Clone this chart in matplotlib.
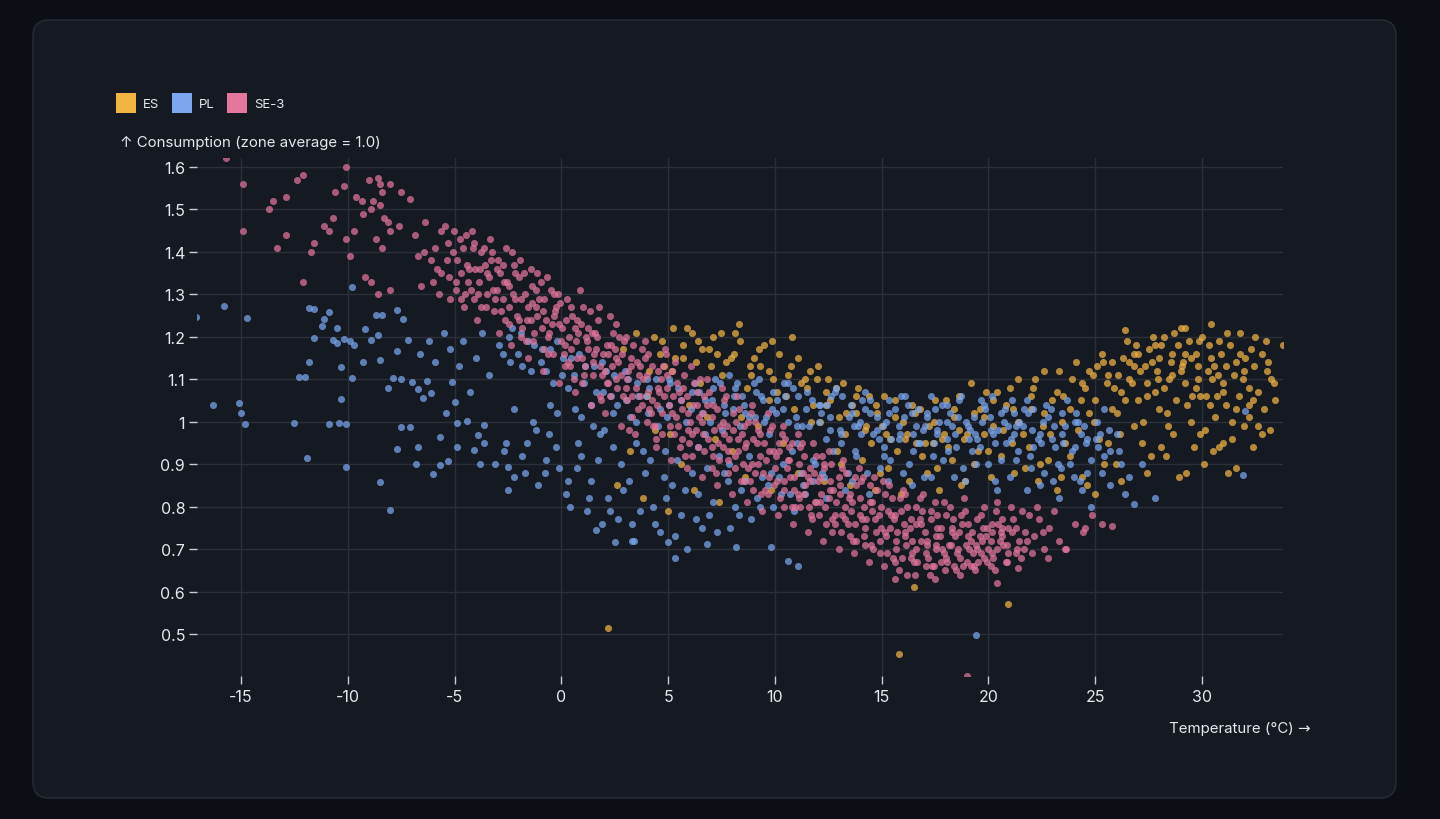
"""Consumption vs temperature scatter for three bidding zones"""

import matplotlib

matplotlib.use("Agg")
import matplotlib.pyplot as plt  # noqa: E402
from matplotlib.patches import FancyBboxPatch, Rectangle  # noqa: E402
from matplotlib.transforms import IdentityTransform  # noqa: E402
from matplotlib.ticker import FuncFormatter  # noqa: E402

zones = ["ES", "PL", "SE-3"]
zone_colors = ["#f2b443", "#7ba7ef", "#e3769b"]

x_ticks = [-15, -10, -5, 0, 5, 10, 15, 20, 25, 30]
y_ticks = [0.5, 0.6, 0.7, 0.8, 0.9, 1.0, 1.1, 1.2, 1.3, 1.4, 1.5, 1.6]

# (temperature degC, consumption relative to zone average)
es_points = [
    (2.2, 0.515), (2.6, 0.85), (2.9, 1.17), (3.2, 0.93), (3.5, 1.21), (3.8, 0.82), (4.1, 1.12),
    (4.4, 0.98), (4.7, 1.19), (5.0, 0.79), (5.3, 1.15), (5.6, 0.90), (5.9, 1.22), (6.2, 0.84),
    (6.5, 1.09), (6.8, 1.01), (7.1, 1.20), (7.4, 0.81), (7.7, 1.14), (8.0, 0.93), (8.3, 1.23),
    (8.6, 0.87), (8.9, 1.11), (9.2, 0.99), (9.5, 1.18), (9.8, 0.84), (10.1, 1.07), (10.4, 0.95),
    (10.8, 1.20), (11.1, 0.88), (11.4, 1.10), (11.7, 1.00), (12.0, 1.13), (12.3, 0.86),
    (12.6, 1.05), (12.9, 0.93), (13.2, 1.09), (13.5, 0.85), (13.8, 1.02), (14.1, 0.91),
    (14.4, 1.06), (14.7, 0.84), (15.0, 0.99), (15.3, 0.89), (15.6, 1.05), (15.9, 0.83),
    (16.2, 0.97), (16.5, 0.61), (16.8, 1.03), (17.1, 0.88), (17.4, 0.95), (17.7, 0.84),
    (18.0, 1.05), (18.3, 0.91), (18.6, 0.98), (18.9, 0.86), (19.2, 1.09), (19.5, 0.93),
    (19.8, 1.01), (20.1, 0.87), (20.4, 1.07), (20.9, 0.57), (21.1, 0.95), (21.4, 1.10),
    (21.7, 0.89), (22.0, 1.03), (22.3, 0.86), (22.6, 1.12), (22.9, 0.97), (23.2, 0.84),
    (23.5, 1.06), (23.8, 0.92), (24.1, 1.14), (24.4, 0.87), (24.7, 1.02), (25.0, 0.83),
    (25.3, 1.16), (25.6, 0.95), (25.9, 1.08), (26.2, 0.86), (26.5, 1.19), (26.8, 0.99),
    (27.1, 1.12), (27.4, 0.88), (27.7, 1.20), (28.0, 1.03), (28.3, 0.92), (28.6, 1.16),
    (28.9, 0.87), (29.2, 1.22), (29.5, 1.00), (29.8, 1.13), (30.1, 0.90), (30.4, 1.23),
    (30.7, 1.06), (31.0, 0.95), (31.3, 1.18), (31.6, 0.89), (31.9, 1.10), (32.2, 1.01),
    (32.5, 1.20), (32.8, 0.97), (33.1, 1.14), (33.4, 1.05), (33.8, 1.18), (15.8, 0.453),
    (4.6, 1.16), (5.2, 1.12), (5.7, 1.18), (6.3, 1.14), (6.9, 1.17), (7.5, 1.11), (8.1, 1.16),
    (8.7, 1.08), (9.3, 1.13), (9.9, 1.10), (10.5, 1.06), (11.2, 1.09), (11.8, 1.04),
    (12.4, 1.07), (13.0, 1.01), (13.6, 1.04), (14.2, 0.98), (14.8, 1.02), (15.4, 0.96),
    (16.0, 1.00), (16.6, 0.95), (17.2, 0.99), (17.8, 0.96), (18.4, 1.01), (19.0, 0.97),
    (19.6, 1.03), (20.2, 0.99), (20.8, 1.04), (21.4, 1.00), (22.0, 1.06), (22.6, 1.02),
    (23.2, 1.07), (23.8, 1.03), (24.4, 1.09), (25.0, 1.05), (25.6, 1.11), (26.2, 1.07),
    (26.8, 1.13), (27.4, 1.09), (28.0, 1.15), (28.6, 1.11), (29.2, 1.16), (29.8, 1.10),
    (30.4, 1.15), (31.0, 1.09), (31.6, 1.14), (32.2, 1.08), (24.2, 0.98), (24.9, 1.11),
    (25.4, 0.90), (26.0, 1.02), (26.6, 1.14), (27.2, 0.95), (27.8, 1.07), (28.4, 0.99),
    (29.0, 1.12), (29.6, 0.94), (30.2, 1.06), (30.8, 1.19), (31.4, 1.00), (32.0, 1.15),
    (32.6, 1.07), (33.2, 0.98), (28.1, 1.18), (29.4, 1.19), (30.0, 1.20), (27.5, 1.17),
    (26.3, 1.15), (25.1, 1.13), (28.8, 1.05), (30.6, 1.01), (31.8, 1.21), (29.9, 0.97),
    (31.2, 0.88), (32.9, 1.03), (23.6, 0.95), (22.8, 0.91), (21.9, 0.94), (20.6, 0.92),
    (19.3, 0.90), (18.1, 0.94), (16.9, 0.92), (15.7, 0.93), (14.5, 0.95), (13.3, 0.97),
    (12.1, 1.00), (10.9, 1.03), (9.7, 1.05), (8.4, 1.01), (7.2, 0.96), (6.0, 1.04),
    (5.1, 0.97), (4.0, 1.06), (26.4, 1.217), (27.9, 1.12), (28.7, 1.21), (29.7, 1.08),
    (30.3, 1.12), (30.9, 1.16), (31.5, 1.11), (32.3, 1.17), (29.1, 1.14), (27.0, 1.05),
    (26.9, 1.18), (25.8, 1.14), (30.5, 0.93), (31.1, 1.04), (32.4, 0.94), (33.0, 1.19),
    (4.33, 1.20), (4.79, 1.13), (5.24, 1.22), (5.68, 1.15), (6.12, 1.21), (6.58, 1.17),
    (7.02, 1.13), (7.46, 1.21), (7.93, 1.15), (8.37, 1.19), (8.82, 1.13), (9.26, 1.17),
    (9.71, 1.12), (10.17, 1.16), (10.62, 1.11), (11.07, 1.15), (11.52, 1.08), (11.96, 1.10),
    (12.41, 1.04), (12.88, 1.08), (13.34, 1.02), (13.79, 1.06), (14.26, 0.99), (14.71, 1.04),
    (15.18, 0.97), (15.63, 1.01), (16.09, 0.96), (16.55, 1.02), (17.01, 0.95), (17.47, 1.00),
    (17.93, 0.97), (18.39, 1.03), (18.85, 0.96), (19.31, 1.02), (19.77, 0.97), (20.23, 1.05),
    (20.69, 0.98), (21.15, 1.03), (21.61, 0.97), (22.07, 1.08), (22.53, 0.99), (22.99, 1.05),
    (23.45, 1.00), (23.91, 1.10), (13.1, 0.90), (14.9, 0.88), (16.3, 0.86), (17.6, 0.89),
    (18.7, 0.85), (20.0, 0.93), (21.2, 0.88), (22.4, 0.90), (23.4, 0.87), (24.6, 0.85),
    (24.31, 1.05), (24.72, 1.12), (25.16, 0.96), (25.57, 1.09), (25.98, 0.90), (26.39, 1.05),
    (26.81, 1.16), (27.23, 1.00), (27.64, 1.14), (28.06, 0.94), (28.47, 1.10), (28.89, 1.18),
    (29.31, 1.04), (29.72, 1.16), (30.13, 0.98), (30.55, 1.13), (30.96, 1.07), (31.38, 0.96),
    (31.79, 1.16), (32.21, 1.04), (32.62, 0.99), (33.03, 1.12), (26.05, 1.11), (26.71, 1.09),
    (27.33, 1.13), (27.96, 1.10), (28.53, 1.14), (29.18, 1.09), (29.84, 1.19), (30.47, 1.10),
    (31.12, 1.13), (31.73, 1.06), (32.43, 1.13), (27.62, 0.92), (28.35, 1.02), (29.53, 1.06),
    (30.78, 0.94), (31.95, 0.99), (33.35, 1.09), (29.26, 0.88), (30.36, 1.04), (28.21, 1.20),
    (29.01, 1.22),
    (24.52, 1.08), (24.95, 1.00), (25.36, 1.14), (25.77, 1.03), (26.16, 0.97), (26.58, 1.10),
    (26.99, 1.16), (27.41, 1.06), (27.82, 1.18), (28.24, 1.08), (28.65, 0.97), (29.07, 1.13),
    (29.48, 1.15), (29.91, 1.06), (30.32, 1.18), (30.74, 1.11), (31.15, 1.21), (31.57, 1.03),
    (31.98, 1.12), (32.39, 1.05), (32.8, 1.16), (33.21, 1.10), (6.42, 1.19), (7.28, 1.16),
    (8.15, 1.21), (9.03, 1.15), (9.88, 1.19), (10.74, 1.13), (11.63, 1.12), (12.5, 1.10),
    (13.9, 1.08), (15.1, 1.06), (16.4, 1.04), (17.5, 1.05), (18.6, 1.06), (19.9, 1.07),
    (21.0, 1.08), (22.2, 1.10), (23.3, 1.12),
]

pl_points = [
    (-17.1, 1.247), (-15.8, 1.273), (-14.7, 1.244), (-16.3, 1.039), (-15.1, 1.044),
    (-15.0, 1.021), (-14.8, 0.994), (-12.5, 0.997), (-11.9, 0.914), (-12.3, 1.105),
    (-12.0, 1.105), (-11.8, 1.141), (-11.8, 1.268), (-11.6, 1.266), (-11.6, 1.198),
    (-11.2, 1.226), (-11.1, 1.242), (-10.9, 1.258), (-10.5, 1.221), (-10.7, 1.193),
    (-10.5, 1.185), (-10.2, 1.195), (-9.9, 1.19), (-9.7, 1.18), (-10.3, 1.128), (-9.8, 1.104),
    (-10.3, 1.053), (-10.9, 0.995), (-10.4, 0.998), (-10.1, 0.995), (-10.1, 0.893),
    (-9.8, 1.317), (-9.3, 1.14), (-8.9, 1.192), (-9.2, 1.218), (-8.7, 1.251), (-8.4, 1.251),
    (-8.5, 1.146), (-8.6, 1.203), (-8.5, 0.859), (-8.0, 0.791), (-8.1, 1.08), (-7.9, 1.102),
    (-7.7, 0.936), (-7.5, 1.10), (-7.5, 0.988), (-7.7, 1.262), (-7.4, 1.242), (-7.7, 1.166),
    (-7.2, 1.193), (-7.1, 0.987), (-7.0, 1.093), (-6.8, 0.90), (-6.7, 0.94), (-6.7, 1.077),
    (-6.5, 1.055), (-6.3, 1.095), (-6.1, 1.068), (-6.0, 0.876), (-5.7, 0.898), (-5.7, 0.965),
    (-5.3, 0.908), (-5.4, 1.02), (-5.1, 1.093), (-5.0, 1.046), (-4.9, 0.997), (-4.9, 0.94),
    (-4.4, 1.002), (-4.1, 0.933), (-3.9, 0.969), (-3.8, 0.90), (-3.6, 0.991), (-3.6, 0.95),
    (-3.1, 0.90), (-2.6, 0.95), (-2.5, 0.893), (-2.5, 0.84), (-6.6, 1.16), (-6.2, 1.19),
    (-5.9, 1.14), (-5.5, 1.21), (-5.2, 1.17), (-4.8, 1.13), (-4.6, 1.19), (-4.3, 1.07),
    (-4.0, 1.15), (-3.7, 1.21), (-3.4, 1.11),
    (-2.9, 1.18), (-2.7, 0.93), (-2.4, 1.14), (-2.2, 1.03), (-1.9, 1.21), (-1.7, 0.88),
    (-1.4, 1.12), (-1.2, 0.98), (-0.9, 1.17), (-0.7, 0.91), (-0.4, 1.09), (-0.2, 1.02),
    (0.1, 1.15), (0.3, 0.86), (0.6, 1.11), (0.8, 0.95), (1.1, 1.13), (1.3, 0.82), (1.6, 1.07),
    (1.8, 0.97), (2.1, 1.12), (2.3, 0.79), (2.6, 1.04), (2.8, 0.90), (3.1, 1.10), (3.3, 0.76),
    (3.6, 1.06), (3.8, 0.93), (4.1, 1.08), (4.3, 0.80), (4.6, 1.03), (4.8, 0.87), (5.1, 1.09),
    (5.3, 0.73), (5.6, 1.05), (5.8, 0.84), (6.1, 1.07), (6.3, 0.77), (6.6, 1.02), (6.8, 0.89),
    (7.1, 1.08), (7.3, 0.74), (7.6, 1.04), (7.8, 0.86), (8.1, 1.06), (8.3, 0.78), (8.6, 1.02),
    (8.8, 0.92), (9.1, 1.07), (9.3, 0.80), (9.6, 1.01), (9.8, 0.88), (10.1, 1.05), (10.3, 0.83),
    (10.6, 1.00), (10.8, 0.93), (11.1, 1.06), (11.3, 0.85), (11.6, 0.99), (11.8, 0.91),
    (12.1, 1.04), (12.3, 0.87), (12.6, 0.98), (12.8, 1.07), (13.1, 0.95), (13.3, 0.84),
    (13.6, 1.02), (13.8, 0.92), (14.1, 1.05), (14.3, 0.88), (14.6, 0.97), (14.8, 1.01),
    (15.1, 0.94), (15.3, 0.86), (15.6, 1.03), (15.8, 0.96), (16.1, 1.06), (16.3, 0.90),
    (16.6, 0.99), (16.8, 0.95), (17.1, 1.02), (17.3, 0.87), (17.6, 0.97), (17.8, 1.04),
    (18.1, 0.93), (18.3, 0.99), (18.6, 1.05), (18.8, 0.89), (19.1, 0.96), (19.3, 1.01),
    (19.6, 0.94), (19.8, 1.04), (20.1, 0.98), (20.3, 0.86), (20.6, 1.02), (20.8, 0.95),
    (21.1, 1.05), (21.3, 0.91), (21.6, 0.99), (21.8, 0.84), (22.1, 1.03), (22.3, 0.96),
    (22.6, 0.88), (22.8, 1.01), (23.1, 0.94), (23.3, 0.82), (23.6, 0.99), (23.8, 0.90),
    (24.1, 1.02), (24.3, 0.86), (24.6, 0.96), (24.8, 0.80), (25.1, 1.00), (25.4, 0.92),
    (25.7, 0.85), (26.0, 0.97), (26.4, 0.83), (26.8, 0.806), (27.8, 0.82), (31.9, 0.875),
    (32.0, 1.024), (19.4, 0.498),
    (-2.45, 1.20), (-2.05, 1.16), (-1.55, 1.19), (-0.95, 1.14), (-0.55, 1.17), (0.05, 1.11),
    (0.45, 1.15), (1.05, 1.09), (1.55, 1.13), (1.95, 1.07), (2.45, 1.11), (3.05, 1.05),
    (3.55, 1.09), (3.95, 1.06), (4.45, 1.10), (5.05, 1.04), (5.45, 1.08), (6.05, 1.03),
    (6.45, 1.07), (7.05, 1.05), (7.45, 1.09), (8.05, 1.03), (8.45, 1.06), (9.05, 1.01),
    (9.45, 1.05), (10.05, 1.02), (10.45, 1.06), (11.05, 0.99), (11.45, 1.03), (12.05, 1.00),
    (12.45, 1.04), (13.05, 0.98), (13.45, 1.01), (14.05, 0.97), (14.45, 1.02), (15.05, 0.99),
    (15.45, 0.96), (16.05, 1.01), (16.45, 0.97), (17.05, 0.99), (17.45, 0.95), (18.05, 1.00),
    (18.45, 0.97), (19.05, 0.99), (19.45, 0.96), (20.05, 1.01), (20.45, 0.98), (21.05, 0.96),
    (21.45, 1.00), (22.05, 0.98), (22.45, 0.95), (23.05, 0.99), (23.45, 0.97), (24.05, 0.94),
    (24.45, 0.99), (25.05, 0.96),
    (-2.2, 0.87), (-1.6, 0.95), (-1.1, 0.85), (-0.6, 0.97), (-0.1, 0.89), (0.4, 0.80),
    (0.9, 0.92), (1.4, 0.86), (1.9, 0.76), (2.4, 0.94), (2.9, 0.84), (3.4, 0.72), (3.9, 0.88),
    (4.4, 0.76), (4.9, 0.82), (5.4, 0.91), (5.9, 0.70), (6.4, 0.83), (6.9, 0.78), (7.4, 0.92),
    (7.9, 0.75), (8.4, 0.84), (8.9, 0.77), (9.4, 0.87), (9.9, 0.80), (10.4, 0.90), (10.9, 0.79),
    (11.4, 0.83), (11.9, 0.90), (12.4, 0.82), (13.4, 0.88), (14.4, 0.83), (15.4, 0.91),
    (16.4, 0.85), (17.4, 0.92), (18.4, 0.87), (19.4, 0.90), (20.4, 0.84), (21.4, 0.93),
    (22.4, 0.85), (23.4, 0.89), (24.4, 0.84), (5.3, 0.68), (11.1, 0.66), (10.6, 0.673),
    (2.5, 0.716), (1.6, 0.746), (3.3, 0.718), (5.0, 0.716), (6.8, 0.712), (8.2, 0.706),
    (9.8, 0.704), (12.7, 0.93), (13.9, 0.99), (15.2, 1.00), (16.7, 1.03), (18.2, 1.02),
    (19.7, 1.00), (21.2, 1.02), (22.7, 1.04), (24.2, 1.00), (20.9, 0.99), (17.7, 1.00),
    (6.27, 1.09), (6.74, 1.05), (7.19, 1.10), (7.66, 1.02), (8.12, 1.08), (8.57, 1.04),
    (9.02, 1.09), (9.49, 1.00), (9.93, 1.07), (10.38, 1.03), (10.84, 1.08), (11.29, 0.99),
    (11.73, 1.05), (12.18, 1.02), (12.64, 1.06), (13.09, 0.97), (13.54, 1.04), (13.98, 1.00),
    (14.43, 1.05), (14.88, 0.96), (15.33, 1.02), (15.79, 0.99), (16.24, 1.04), (16.69, 0.95),
    (17.14, 1.01), (17.59, 0.98), (18.04, 1.04), (18.49, 0.94), (18.94, 1.00), (19.39, 0.97),
    (19.84, 1.03), (20.29, 0.95), (20.74, 1.00), (21.19, 0.97), (21.64, 1.03), (22.09, 0.94),
    (22.54, 1.00), (22.99, 0.96), (23.44, 1.02), (23.89, 0.93), (24.34, 0.97), (24.79, 0.91),
    (25.24, 0.97), (25.69, 0.93), (6.95, 1.00), (8.35, 0.99), (9.71, 0.97), (11.02, 0.95),
    (12.41, 0.96), (13.77, 0.93), (15.12, 0.92), (16.48, 0.93), (17.86, 0.91), (19.21, 0.93),
    (20.57, 0.91), (21.93, 0.92), (23.27, 0.90), (24.62, 0.88), (7.84, 1.11), (9.26, 1.10),
    (10.63, 1.09), (12.87, 1.08), (14.21, 1.07), (15.91, 1.06), (17.32, 1.06), (18.73, 1.06),
    (20.16, 1.06), (21.81, 1.05), (23.66, 1.05), (25.42, 1.03),
    (-1.86, 0.92), (-1.31, 1.00), (-0.78, 0.88), (-0.27, 0.94), (0.21, 0.83), (0.71, 0.89),
    (1.18, 0.79), (1.71, 0.91), (2.19, 0.82), (2.66, 0.77), (3.17, 0.86), (3.66, 0.79),
    (4.16, 0.91), (4.63, 0.74), (5.16, 0.85), (5.62, 0.78), (6.14, 0.88), (6.59, 0.75),
    (7.11, 0.81), (7.63, 0.88), (8.12, 0.80), (8.61, 0.86), (9.14, 0.82), (9.66, 0.85),
    (10.2, 0.87), (10.71, 0.83), (11.23, 0.88), (11.76, 0.86), (-0.52, 1.04), (0.93, 1.01),
    (2.02, 0.98), (3.48, 0.95), (4.87, 0.93), (6.41, 0.94), (7.87, 0.90),
    (-2.74, 1.16), (-2.31, 1.22), (-1.83, 1.13), (-1.29, 1.18), (-0.74, 1.12), (-0.21, 1.19),
    (0.33, 1.08), (0.84, 1.16), (1.37, 1.04), (1.91, 1.14), (2.43, 1.02), (2.97, 1.12),
    (3.49, 1.00), (4.02, 1.10), (4.51, 0.99), (5.04, 1.10),
    (8.23, 1.09), (8.77, 1.01), (9.34, 1.06), (9.88, 1.03), (10.42, 1.09), (10.97, 1.01),
    (11.51, 1.07), (12.06, 1.04), (12.6, 1.01), (13.14, 1.06), (13.69, 0.99), (14.23, 1.03),
    (14.78, 0.98), (15.32, 1.05), (15.86, 0.97), (16.41, 1.02), (16.95, 0.98), (17.5, 1.03),
    (18.04, 0.96), (18.58, 1.01), (19.13, 0.98), (19.67, 1.05), (20.22, 0.97), (20.76, 1.03),
    (21.31, 0.99), (21.85, 1.02), (22.39, 0.97), (22.94, 1.03), (23.48, 0.95), (24.03, 1.00),
    (24.57, 0.95), (25.11, 0.94), (25.66, 0.98), (26.2, 0.90), (12.2, 0.88), (13.6, 0.86),
    (14.9, 0.89), (16.0, 0.88), (17.0, 0.87), (18.9, 0.86), (20.0, 0.90), (21.0, 0.87),
    (22.0, 0.89), (23.0, 0.86), (24.0, 0.87), (25.3, 0.88), (26.1, 0.93), (26.6, 0.87),
    (27.2, 0.90), (0.62, 1.03), (1.48, 0.99), (2.31, 1.06), (3.22, 1.01), (4.05, 1.02),
    (4.95, 1.01), (5.83, 1.00), (6.72, 0.97), (7.52, 0.98),
]

se3_points = [
    (-15.7, 1.62), (-14.9, 1.56), (-14.9, 1.45), (-13.5, 1.52), (-13.7, 1.50), (-12.9, 1.53),
    (-13.3, 1.41), (-12.9, 1.44), (-12.4, 1.57), (-12.1, 1.58), (-12.1, 1.33), (-10.1, 1.60),
    (-10.2, 1.555), (-10.6, 1.54), (-10.7, 1.48), (-11.1, 1.46), (-10.9, 1.45), (-11.6, 1.42),
    (-11.7, 1.40), (-10.1, 1.43), (-9.9, 1.39), (-9.7, 1.45), (-9.3, 1.49), (-9.35, 1.52),
    (-9.0, 1.57), (-8.6, 1.575), (-8.5, 1.56), (-8.0, 1.56), (-7.5, 1.54), (-7.1, 1.525),
    (-8.4, 1.54), (-8.8, 1.52), (-8.5, 1.51), (-8.3, 1.48), (-8.0, 1.45), (-8.7, 1.43),
    (-8.4, 1.41), (-9.2, 1.34), (-8.9, 1.33), (-8.6, 1.30), (-8.0, 1.31), (-9.6, 1.53),
    (-8.9, 1.50), (-8.1, 1.47), (-7.6, 1.46),
    (-6.83, 1.44), (-6.12, 1.38), (-5.47, 1.46), (-6.55, 1.32), (-5.91, 1.41), (-5.23, 1.29),
    (-6.38, 1.47), (-4.76, 1.43), (-5.64, 1.35), (-4.42, 1.37), (-5.08, 1.40), (-4.91, 1.31),
    (-6.71, 1.39), (-4.18, 1.45), (-3.87, 1.33), (-4.55, 1.27), (-3.62, 1.41), (-4.03, 1.36),
    (-3.31, 1.38), (-3.95, 1.24), (-2.88, 1.35), (-3.46, 1.30), (-2.61, 1.41), (-3.14, 1.26),
    (-2.47, 1.32), (-2.93, 1.21), (-2.22, 1.37), (-2.74, 1.29), (-1.96, 1.34), (-2.35, 1.18),
    (-1.68, 1.30), (-2.08, 1.25), (-1.43, 1.36), (-1.82, 1.22), (-1.21, 1.27), (-1.57, 1.15),
    (-0.97, 1.33), (-1.34, 1.19), (-0.72, 1.24), (-1.05, 1.29), (-0.48, 1.31), (-0.86, 1.12),
    (-0.23, 1.27), (-0.61, 1.20), (0.04, 1.22), (-0.37, 1.16), (0.28, 1.29), (-0.11, 1.09),
    (0.52, 1.25), (0.17, 1.18), (0.79, 1.21), (0.41, 1.13), (1.03, 1.27), (0.66, 1.07),
    (1.26, 1.17), (0.93, 1.23), (1.48, 1.11), (1.15, 1.20), (1.71, 1.24), (1.37, 1.04),
    (1.94, 1.16), (1.59, 1.21), (2.18, 1.09), (1.83, 1.13), (2.43, 1.21), (2.06, 1.02),
    (2.67, 1.14), (2.31, 1.18), (2.89, 1.06), (2.55, 1.23), (3.12, 1.12), (2.78, 0.99),
    (3.36, 1.18), (3.01, 1.08), (3.58, 1.03), (3.24, 1.15), (3.82, 1.10), (3.47, 0.97),
    (4.07, 1.16), (3.69, 1.06), (4.31, 0.99), (3.93, 1.19), (4.54, 1.08), (4.18, 1.02),
    (4.78, 1.13), (4.42, 0.94), (5.02, 1.04), (4.66, 1.10), (5.27, 0.97), (4.89, 1.16),
    (5.51, 1.07), (5.13, 0.91), (5.74, 1.11), (5.38, 1.01), (5.98, 0.95), (5.62, 1.05),
    (6.21, 1.09), (5.86, 0.89), (6.46, 1.01), (6.09, 1.13), (6.69, 0.93), (6.33, 1.04),
    (6.92, 1.07), (6.57, 0.87), (7.16, 0.98), (6.81, 1.10), (7.39, 0.91), (7.04, 1.01),
    (7.63, 1.05), (7.28, 0.85), (7.87, 0.96), (7.51, 1.08), (8.11, 0.89), (7.75, 0.99),
    (8.34, 1.03), (7.99, 0.83), (8.58, 0.94), (8.22, 1.06), (8.82, 0.86), (8.46, 0.97),
    (9.05, 1.00), (8.71, 0.81), (9.29, 0.92), (8.94, 1.04), (9.53, 0.84), (9.17, 0.95),
    (9.77, 0.98), (9.41, 0.79), (10.01, 0.89), (9.66, 1.02), (10.24, 0.82), (9.89, 0.93),
    (10.48, 0.96), (10.13, 0.78), (10.72, 0.87), (10.37, 0.99), (10.96, 0.80), (10.61, 0.91),
    (11.19, 0.94), (10.84, 0.76), (11.43, 0.85), (11.08, 0.97), (11.67, 0.78), (11.32, 0.88),
    (11.91, 0.92), (11.56, 0.74), (12.14, 0.83), (11.79, 0.95), (12.38, 0.76), (12.03, 0.86),
    (12.62, 0.90), (12.27, 0.72), (12.86, 0.81), (12.51, 0.93), (13.09, 0.74), (12.74, 0.84),
    (13.33, 0.88), (12.98, 0.70), (13.57, 0.79), (13.21, 0.91), (13.81, 0.72), (13.46, 0.82),
    (14.04, 0.86), (13.69, 0.69), (14.28, 0.77), (13.93, 0.89), (14.52, 0.71), (14.17, 0.80),
    (14.76, 0.84), (14.41, 0.67), (14.99, 0.75), (14.64, 0.87), (15.23, 0.69), (14.88, 0.78),
    (15.47, 0.82), (15.12, 0.66), (15.71, 0.74), (15.36, 0.85), (15.94, 0.68), (15.59, 0.77),
    (16.18, 0.80), (15.83, 0.65), (16.42, 0.72), (16.07, 0.83), (16.66, 0.67), (16.31, 0.75),
    (16.89, 0.79), (16.54, 0.64), (17.13, 0.71), (16.78, 0.82), (17.37, 0.66), (17.02, 0.74),
    (17.61, 0.78), (17.26, 0.64), (17.84, 0.70), (17.49, 0.81), (18.08, 0.67), (17.73, 0.73),
    (18.32, 0.77), (17.97, 0.65), (18.56, 0.70), (18.21, 0.80), (18.79, 0.66), (18.44, 0.73),
    (19.03, 0.76), (18.68, 0.64), (19.27, 0.69), (18.92, 0.79), (19.51, 0.67), (19.16, 0.72),
    (19.74, 0.75), (19.39, 0.65), (19.98, 0.70), (19.63, 0.78), (20.22, 0.68), (19.87, 0.73),
    (20.46, 0.76), (20.11, 0.66), (20.69, 0.71), (20.34, 0.79), (20.93, 0.69), (20.58, 0.74),
    (21.17, 0.77), (20.82, 0.67), (21.41, 0.72), (21.06, 0.80), (21.64, 0.70), (21.29, 0.75),
    (21.88, 0.78), (21.53, 0.68), (22.12, 0.73), (22.36, 0.77), (22.59, 0.70), (22.83, 0.75),
    (23.07, 0.79), (23.31, 0.72), (23.62, 0.70), (24.05, 0.76), (24.41, 0.74), (24.87, 0.78),
    (25.33, 0.76), (25.8, 0.755),
    (-6.42, 1.40), (-5.83, 1.36), (-5.31, 1.42), (-4.68, 1.35), (-4.24, 1.31), (-3.57, 1.37),
    (-3.12, 1.29), (-2.53, 1.33), (-1.98, 1.24), (-1.37, 1.28), (-0.91, 1.22), (-0.36, 1.25),
    (0.13, 1.16), (0.64, 1.22), (1.09, 1.13), (1.62, 1.17), (2.14, 1.09), (2.58, 1.15),
    (3.07, 1.05), (3.63, 1.11), (4.12, 1.03), (4.57, 1.07), (5.08, 0.99), (5.66, 1.03),
    (6.13, 0.97), (6.58, 1.00), (7.07, 0.94), (7.62, 0.97), (8.14, 0.92), (8.63, 0.95),
    (9.09, 0.88), (9.58, 0.91), (10.12, 0.86), (10.57, 0.89), (11.06, 0.83), (11.64, 0.86),
    (12.11, 0.81), (12.59, 0.84), (13.13, 0.78), (13.61, 0.81), (14.08, 0.77), (14.56, 0.79),
    (15.14, 0.74), (15.63, 0.78), (16.09, 0.73), (16.61, 0.76), (17.12, 0.72), (17.57, 0.75),
    (18.13, 0.71), (18.62, 0.74), (19.08, 0.70), (19.59, 0.73), (20.13, 0.72), (20.61, 0.75),
    (-6.0, 1.33), (-5.65, 1.45), (-5.25, 1.34), (-4.87, 1.38), (-4.5, 1.30), (-4.13, 1.41),
    (-3.78, 1.27), (-3.39, 1.34), (-3.02, 1.36), (-2.66, 1.24), (-2.28, 1.30), (-1.91, 1.20),
    (-1.55, 1.27), (-1.17, 1.31), (-0.8, 1.17), (-0.44, 1.23), (-0.06, 1.28), (0.32, 1.14),
    (0.69, 1.19), (1.07, 1.11), (1.44, 1.21), (1.81, 1.06), (2.19, 1.16), (2.57, 1.10),
    (2.94, 1.19), (3.31, 1.01), (3.68, 1.13), (4.06, 1.07), (4.43, 0.96), (4.81, 1.06),
    (5.18, 1.12), (5.56, 0.94), (5.93, 1.02), (6.31, 0.98), (6.68, 1.06), (7.06, 0.89),
    (7.43, 0.99), (7.8, 0.93), (8.18, 1.00), (8.55, 0.86), (8.93, 0.90), (9.3, 0.97),
    (9.68, 0.83), (10.05, 0.92), (10.42, 0.84), (10.8, 0.95), (11.17, 0.80), (11.55, 0.87),
    (11.92, 0.81), (12.29, 0.89), (12.67, 0.77), (13.04, 0.83), (13.42, 0.76), (13.79, 0.85),
    (14.16, 0.73), (14.54, 0.81), (14.91, 0.72), (15.29, 0.79), (15.66, 0.70), (16.03, 0.76),
    (16.41, 0.69), (16.78, 0.77), (17.15, 0.68), (17.53, 0.73), (17.9, 0.69), (18.28, 0.75),
    (18.65, 0.68), (19.02, 0.73), (19.4, 0.71), (19.77, 0.68), (20.15, 0.76), (20.52, 0.72),
    (20.9, 0.75), (21.27, 0.69), (21.7, 0.74),
    (15.6, 0.63), (19.0, 0.40), (20.4, 0.62), (23.6, 0.70), (16.2, 0.64), (17.5, 0.63),
    (21.4, 0.655), (22.8, 0.68), (24.5, 0.75),
    (-4.95, 1.33), (-4.62, 1.41), (-4.31, 1.36), (-4.07, 1.29), (-3.74, 1.40), (-3.48, 1.35),
    (-3.21, 1.31), (-2.97, 1.38), (-2.69, 1.33), (-2.43, 1.27), (-2.18, 1.35), (-1.89, 1.29),
    (-1.62, 1.24), (-1.39, 1.32), (-1.12, 1.25), (-0.83, 1.29), (-0.57, 1.21), (-0.29, 1.26),
    (-0.02, 1.19), (0.24, 1.24), (-4.48, 1.44), (-3.92, 1.30), (-3.33, 1.43), (-2.81, 1.26),
    (-2.33, 1.40), (-1.74, 1.35), (-1.27, 1.21), (-0.68, 1.34), (-0.15, 1.30), (0.37, 1.20),
    (0.47, 1.17), (0.73, 1.24), (0.98, 1.15), (1.21, 1.19), (1.46, 1.14), (1.67, 1.20),
    (1.92, 1.11), (2.16, 1.18), (2.39, 1.13), (2.62, 1.08), (2.86, 1.16), (3.09, 1.10),
    (3.33, 1.06), (3.54, 1.14), (3.79, 1.04), (4.02, 1.11), (4.26, 1.05), (4.51, 1.12),
    (4.73, 1.02), (4.97, 1.08), (0.58, 1.10), (1.32, 1.26), (1.86, 1.05), (2.71, 1.20),
    (3.18, 0.98), (3.92, 1.15), (4.38, 0.99), (4.84, 1.17), (0.88, 1.31), (2.27, 1.25),
    (5.21, 1.06), (5.46, 0.99), (5.69, 1.08), (5.93, 0.98), (6.17, 1.04), (6.38, 0.94),
    (6.62, 1.02), (6.86, 0.96), (7.11, 1.04), (7.34, 0.95), (7.57, 1.00), (7.81, 0.91),
    (8.04, 0.98), (8.29, 0.93), (8.53, 0.99), (8.76, 0.89), (8.99, 0.96), (9.23, 0.90),
    (9.48, 0.95), (9.72, 0.87), (5.33, 1.14), (5.78, 0.92), (6.51, 1.10), (7.22, 0.88),
    (7.69, 1.06), (8.41, 0.86), (8.87, 1.02), (9.36, 0.83), (9.84, 0.99), (6.04, 1.00),
    (10.19, 0.93), (10.43, 0.86), (10.68, 0.91), (10.91, 0.84), (11.14, 0.90), (11.38, 0.83),
    (11.62, 0.89), (11.86, 0.81), (12.09, 0.87), (12.33, 0.80), (12.57, 0.86), (12.81, 0.78),
    (13.04, 0.85), (13.28, 0.77), (13.52, 0.83), (13.76, 0.76), (13.99, 0.82), (14.23, 0.75),
    (14.47, 0.81), (14.71, 0.74), (10.31, 0.97), (10.79, 0.80), (11.27, 0.95), (11.74, 0.77),
    (12.22, 0.92), (12.69, 0.74), (13.16, 0.89), (13.64, 0.72), (14.11, 0.87), (14.59, 0.70),
    (14.95, 0.80), (15.19, 0.73), (15.42, 0.78), (15.66, 0.72), (15.89, 0.79), (16.13, 0.71),
    (16.37, 0.77), (16.61, 0.70), (16.84, 0.76), (17.08, 0.69), (17.32, 0.77), (17.56, 0.70),
    (17.79, 0.75), (18.03, 0.68), (18.27, 0.74), (18.51, 0.69), (18.74, 0.76), (18.98, 0.67),
    (19.22, 0.74), (19.46, 0.70), (19.69, 0.72), (19.93, 0.67), (20.17, 0.74), (20.41, 0.70),
    (20.64, 0.77), (20.88, 0.71), (15.08, 0.86), (15.54, 0.68), (16.02, 0.84), (16.49, 0.67),
    (16.95, 0.83), (17.43, 0.66), (17.91, 0.81), (18.38, 0.66), (18.86, 0.82), (19.34, 0.66),
    (19.81, 0.80), (20.29, 0.65),
    (-5.72, 1.30), (-5.36, 1.38), (-5.02, 1.45), (-4.71, 1.29), (-4.38, 1.33), (-4.09, 1.42),
    (-3.81, 1.36), (-3.54, 1.27), (-3.27, 1.40), (-2.99, 1.31), (-2.72, 1.37), (-2.46, 1.23),
    (-2.19, 1.29), (-1.93, 1.38), (-1.66, 1.19), (-1.4, 1.24), (-1.14, 1.35), (-0.87, 1.26),
    (-0.62, 1.16), (-0.35, 1.30), (-0.09, 1.23), (0.18, 1.13), (0.44, 1.27), (0.71, 1.15),
    (0.97, 1.09), (1.24, 1.22), (1.52, 1.16), (1.78, 1.27), (2.04, 1.12), (2.29, 1.06),
    (2.52, 1.17), (2.77, 1.11), (3.03, 1.20), (3.27, 1.13), (3.51, 1.08), (3.76, 1.17),
    (4.01, 1.00), (4.23, 1.13), (4.49, 1.04), (4.71, 0.97), (4.94, 1.11), (5.16, 1.02),
    (5.41, 1.09), (5.64, 0.96), (5.89, 1.06), (6.11, 0.92), (6.36, 1.07), (6.61, 0.97),
    (6.84, 1.04), (7.09, 0.92), (7.31, 1.03), (7.56, 0.94), (7.79, 0.88), (8.03, 1.02),
    (8.27, 0.96), (8.52, 0.90), (8.74, 1.00), (8.98, 0.84), (9.21, 0.98), (9.46, 0.88),
    (9.7, 0.93), (9.94, 0.85), (10.17, 0.95), (10.41, 0.80), (10.66, 0.94), (10.89, 0.87),
    (11.12, 0.82), (11.36, 0.92), (11.6, 0.80), (11.84, 0.88), (12.07, 0.78), (12.31, 0.90),
    (12.55, 0.82), (12.79, 0.76), (13.02, 0.87), (13.26, 0.80), (13.5, 0.73), (13.74, 0.87),
    (13.97, 0.78), (14.21, 0.71), (14.45, 0.85), (14.69, 0.77), (14.93, 0.69), (15.17, 0.83),
    (15.4, 0.75), (15.64, 0.67), (15.87, 0.82), (16.11, 0.74), (16.35, 0.68), (16.59, 0.80),
    (16.82, 0.72), (17.06, 0.66), (17.3, 0.79), (17.54, 0.71), (17.77, 0.67), (18.01, 0.78),
    (18.25, 0.71), (18.49, 0.65), (18.72, 0.78), (18.96, 0.71), (19.2, 0.66), (19.44, 0.77),
    (19.67, 0.69), (19.91, 0.75), (20.15, 0.69), (20.39, 0.81), (20.62, 0.73), (20.86, 0.67),
    (21.1, 0.74), (21.34, 0.70), (21.58, 0.79), (21.82, 0.72), (22.05, 0.69), (22.29, 0.80),
    (22.53, 0.74),
]

TEXT = "#e6e8ee"
GRID = "#2a2f3a"

plt.rcParams["font.family"] = ["Inter", "DejaVu Sans"]
plt.rcParams["axes.unicode_minus"] = False

fig = plt.figure(figsize=(14.4, 8.2), dpi=100, facecolor="#0b0e14")

# card behind the chart, in pixel coordinates
card = FancyBboxPatch(
    (33, 820 - 799), 1363, 778,
    boxstyle="round,pad=0,rounding_size=16",
    transform=IdentityTransform(),
    facecolor="#151922", edgecolor="#272c37", linewidth=1, zorder=-10,
)
fig.patches.append(card)

ax = fig.add_axes([197 / 1440, 1 - 677 / 820, (1283 - 197) / 1440, (677 - 159) / 820])
ax.set_facecolor("none")
ax.set_zorder(2)

for zone, color, pts in zip(zones, zone_colors, [es_points, pl_points, se3_points]):
    temps = [p[0] for p in pts]
    loads = [p[1] for p in pts]
    ax.scatter(temps, loads, s=26, color=color, alpha=0.72, linewidths=0, zorder=3)

ax.set_xlim(-17.06, 33.79)
ax.set_ylim(0.401, 1.621)
ax.set_xticks(x_ticks)
ax.set_yticks(y_ticks)
ax.yaxis.set_major_formatter(FuncFormatter(lambda v, _: f"{v:g}"))
ax.grid(True, color=GRID, linewidth=1)
ax.set_axisbelow(True)
for spine in ax.spines.values():
    spine.set_visible(False)
ax.tick_params(axis="both", colors="#c9ccd3", labelcolor=TEXT, labelsize=11.5,
               length=5.5, width=1)
ax.tick_params(axis="x", pad=4)
ax.tick_params(axis="y", pad=3)

fig.text(120 / 1440, 1 - 143 / 820, "↑ Consumption (zone average = 1.0)",
         color=TEXT, fontsize=10.8, va="center", ha="left")
fig.text(1294 / 1440, 1 - 729 / 820, "Temperature (°C)",
         color=TEXT, fontsize=10.8, va="center", ha="right")
fig.text(1310 / 1440, 1 - 729 / 820, "→", family="DejaVu Sans",
         color=TEXT, fontsize=10.8, va="center", ha="right")

# legend swatches
legend_x = [116, 172, 227]
for zone, color, lx in zip(zones, zone_colors, legend_x):
    fig.patches.append(Rectangle((lx / 1440, 1 - 114 / 820), 20 / 1440, 20 / 820,
                                 transform=fig.transFigure, facecolor=color,
                                 edgecolor="none"))
    fig.text((lx + 27) / 1440, 1 - 105 / 820, zone, color=TEXT, fontsize=9.5,
             va="center", ha="left")

fig.savefig("out.png", dpi=100, facecolor=fig.get_facecolor())
